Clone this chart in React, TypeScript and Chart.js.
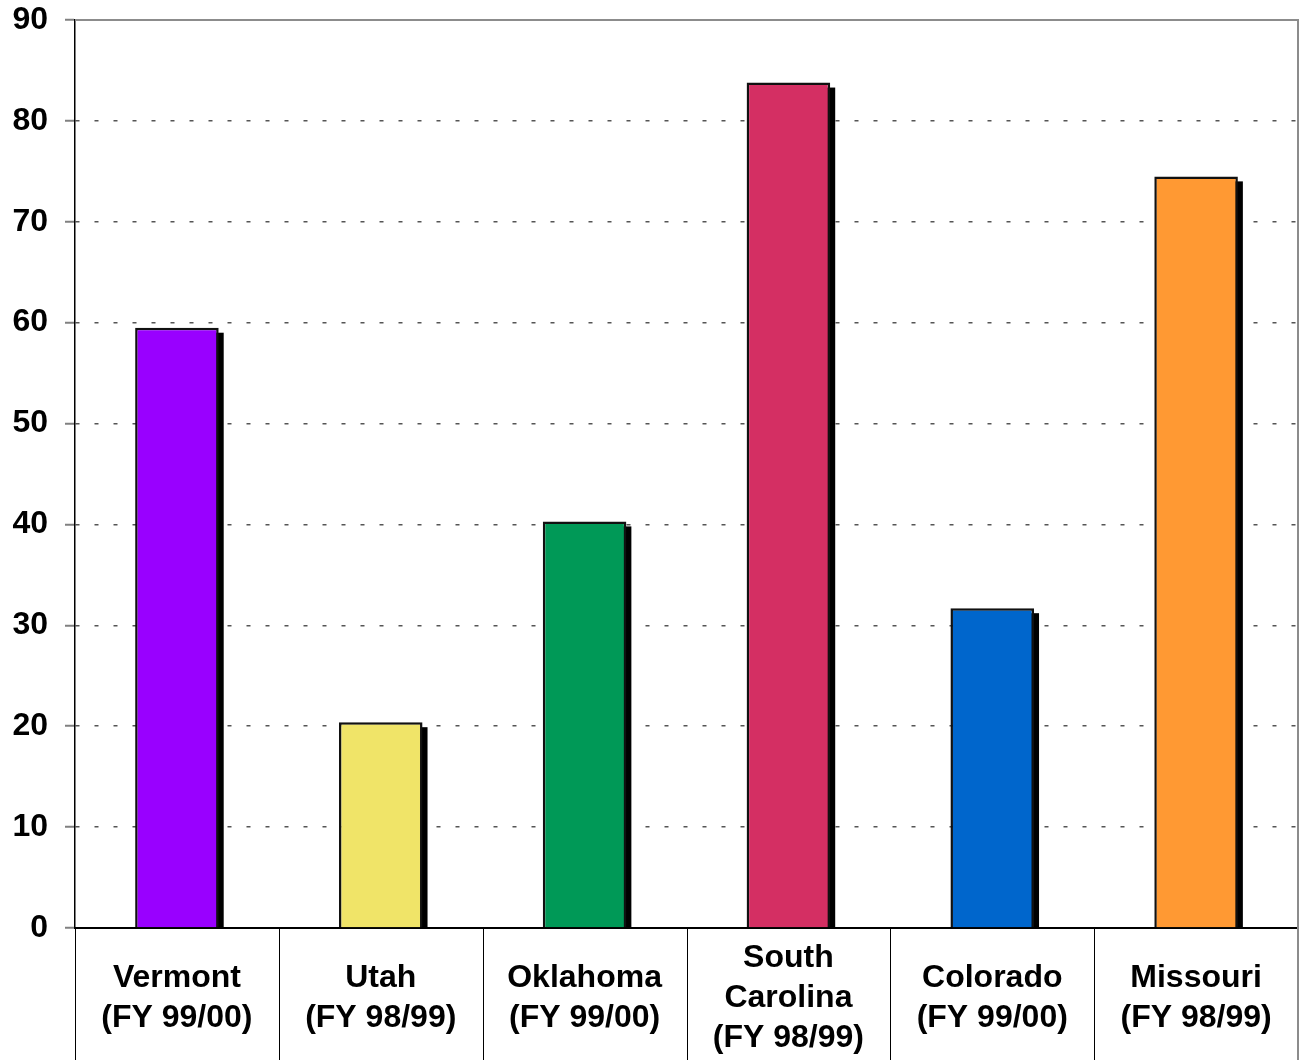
import React, { useEffect, useRef } from "react";
import { Chart, registerables } from "chart.js";

Chart.register(...registerables);

const categories: string[][] = [
  ["Vermont", "(FY 99/00)"],
  ["Utah", "(FY 98/99)"],
  ["Oklahoma", "(FY 99/00)"],
  ["South", "Carolina", "(FY 98/99)"],
  ["Colorado", "(FY 99/00)"],
  ["Missouri", "(FY 98/99)"],
];
const values: number[] = [59.5, 20.4, 40.3, 83.8, 31.7, 74.5];
const barColors: string[] = ["#9900FF", "#F0E468", "#009957", "#D42F63", "#0066CC", "#FF9933"];
const yMin = 0;
const yMax = 90;
const yStep = 10;

const FONT = "'Liberation Sans', Arial, sans-serif";

const shadowPlugin = {
  id: "barShadow",
  beforeDatasetsDraw(chart: any) {
    const ctx = chart.ctx;
    const meta = chart.getDatasetMeta(0);
    ctx.save();
    ctx.fillStyle = "#000000";
    meta.data.forEach((bar: any) => {
      const { x, y, base, width } = bar.getProps(["x", "y", "base", "width"], true);
      const left = x - width / 2 + 5;
      const top = y + 5;
      ctx.fillRect(left, top, width, base - top);
    });
    ctx.restore();
  },
  afterDraw(chart: any) {
    const ctx = chart.ctx;
    const area = chart.chartArea;
    const xs = chart.scales.x;
    ctx.save();
    // frame top and right
    ctx.strokeStyle = "#8c8c8c";
    ctx.lineWidth = 2;
    ctx.beginPath();
    ctx.moveTo(area.left, area.top);
    ctx.lineTo(area.right, area.top);
    ctx.lineTo(area.right, chart.height);
    ctx.stroke();
    // category separators below axis
    ctx.strokeStyle = "#000000";
    ctx.lineWidth = 1;
    ctx.beginPath();
    for (let i = 0; i < categories.length; i++) {
      const px = Math.round(xs.getPixelForValue(i - 0.5)) + 0.5;
      ctx.moveTo(px, area.bottom);
      ctx.lineTo(px, chart.height);
    }
    ctx.stroke();
    // category labels, vertically centred in the band below the axis
    ctx.fillStyle = "#000000";
    ctx.font = `bold 32px ${FONT}`;
    ctx.textAlign = "center";
    ctx.textBaseline = "middle";
    const lineH = 40;
    const centerY = area.bottom + (chart.height - area.bottom) / 2 + 4;
    categories.forEach((lines, i) => {
      const cx = xs.getPixelForValue(i);
      const startY = centerY - ((lines.length - 1) * lineH) / 2;
      lines.forEach((ln, j) => ctx.fillText(ln, cx, startY + j * lineH));
    });
    ctx.restore();
  },
};

export default function App() {
  const ref = useRef<HTMLCanvasElement | null>(null);
  useEffect(() => {
    document.body.style.margin = "0";
    if (!ref.current) return;
    const chart = new Chart(ref.current, {
      type: "bar",
      data: {
        labels: categories.map((c) => c.join(" ")),
        datasets: [
          {
            data: values,
            backgroundColor: barColors,
            borderColor: "#111111",
            borderWidth: 2.5,
            barPercentage: 0.41,
            categoryPercentage: 1,
          },
        ],
      },
      options: {
        animation: false,
        responsive: false,
        maintainAspectRatio: false,
        layout: { padding: { top: 20, right: 6, bottom: 0, left: 0 } },
        plugins: {
          legend: { display: false },
          tooltip: { enabled: false },
        },
        scales: {
          x: {
            offset: true,
            grid: { display: false, drawTicks: false },
            border: { display: true, color: "#000000", width: 2 },
            ticks: { display: false },
            afterFit: (scale: any) => {
              scale.height = 132;
              scale.paddingLeft = 0;
              scale.paddingRight = 0;
            },
          },
          y: {
            min: yMin,
            max: yMax,
            afterFit: (scale: any) => {
              scale.width = 75;
              scale.paddingTop = 0;
              scale.paddingBottom = 0;
            },
            ticks: {
              stepSize: yStep,
              color: "#000000",
              padding: 17,
              font: { family: FONT, size: 32, weight: "bold" },
            },
            grid: {
              color: (c: any) => (c.tick && (c.tick.value === yMax || c.tick.value === yMin) ? "rgba(0,0,0,0)" : "#555555"),
              tickColor: "#808080",
              tickLength: 10,
              lineWidth: 1.5,
              tickWidth: 2,
            },
            border: { display: true, color: "#000000", width: 1.5, dash: [4, 15] },
          },
        },
      },
      plugins: [shadowPlugin],
    });
    return () => chart.destroy();
  }, []);
  return (
    <div style={{ width: 1304, height: 1060, background: "#ffffff" }}>
      <canvas ref={ref} width={1304} height={1060} style={{ display: "block" }} />
    </div>
  );
}
